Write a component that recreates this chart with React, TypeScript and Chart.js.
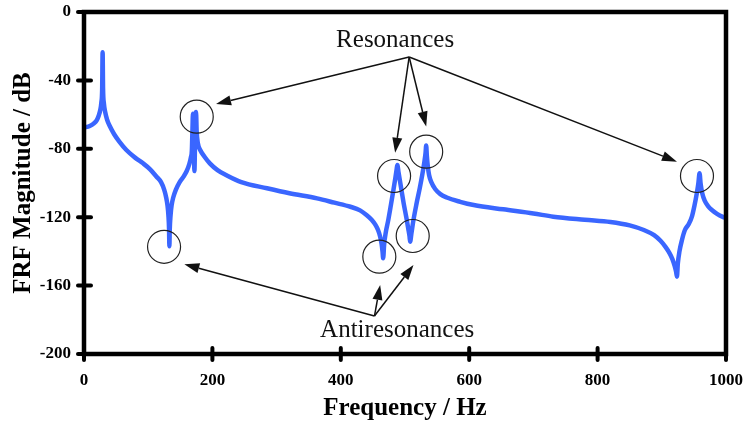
import React, { useEffect, useRef } from "react";
import { Chart, registerables } from "chart.js";

Chart.register(...registerables);

// Frequency response (Hz, dB)
const freqHz = [
  0, 9, 15, 20, 23, 25.5, 27, 28.3, 29, 29.7, 31, 33, 36, 40.5, 47, 55, 66, 80, 92, 103, 113, 120, 125, 128, 130,
  131.5, 132.5, 133, 133.6, 134.8, 136.5, 139, 143, 149, 155, 160, 164, 166.5, 168, 169, 169.7, 170.8, 172, 173.3,
  174.5, 175.5, 177.5, 181, 188, 196, 208, 222, 245, 285, 320, 363, 390, 415, 430, 440, 448, 454, 458, 461, 463.5,
  465, 466, 467.5, 470, 474, 478, 482, 485, 487, 488, 490, 494, 498, 502, 505, 507, 508, 510, 513, 518, 523, 527,
  530, 532, 533, 534, 535.5, 537.5, 541, 547, 555, 565, 586, 607, 653, 700, 731, 780, 820, 850, 872, 888, 898, 906,
  912, 916.5, 920, 922.3, 923.6, 925, 927.5, 931.4, 936, 942, 947, 951, 954.5, 957, 958.8, 960.5, 963, 967, 972,
  978, 986, 995, 1000,
];
const magDb = [
  -67.6, -66.7, -65.3, -63.2, -60.5, -57, -53, -45, -23.5, -45, -53.4, -58.5, -63, -67, -71.5, -75.8, -80.7, -85.3,
  -88.5, -92, -96.3, -99.5, -104, -108.5, -113, -119, -127, -137, -127, -119, -113, -108.5, -104, -99.5, -96.3, -93,
  -89, -85, -81, -68, -59.5, -66, -93, -68, -58.5, -70, -77, -80.7, -84.8, -88.5, -92.5, -95.5, -99.5, -103.1, -106,
  -109, -111.5, -113.9, -116, -118.7, -121.5, -124.5, -127.5, -131, -135.5, -140, -144, -136, -129, -121.6, -113,
  -104, -97, -92, -89.5, -94, -103, -112, -120, -126.5, -131, -134.3, -129.5, -122, -112, -103, -95, -88, -82.5,
  -78, -84, -90, -95.3, -99.5, -103.5, -106.5, -108.5, -111, -112.9, -115.4, -117.8, -119.7, -121.5, -122.8,
  -124.8, -127.5, -130.5, -133.8, -137.5, -141, -144.5, -148.5, -152, -154.8, -147, -140, -133.3, -127.5, -124,
  -119.5, -113, -106, -100, -94.3, -100.5, -106, -110.5, -113.5, -115.8, -118, -119.8, -120.5,
];

const yTicks = [0, -40, -80, -120, -160, -200];
const xTicks = [0, 200, 400, 600, 800, 1000];

// Annotation circles (Hz, dB)
const circleHz = [175.6, 124.7, 483, 533, 512, 460, 954.8];
const circleDb = [-61.2, -137.3, -95.9, -81.7, -131, -143.1, -95.9];

// Resonances label / arrows
const resLabel = "Resonances";
const resLabelPos = [484.6, -16.4];
const resOrigin = [506.5, -26.3];
const resTipHz = [205.7, 484.6, 533, 923.6];
const resTipDb = [-53.8, -82.3, -67, -87.5];

// Antiresonances label / arrows
const antiLabel = "Antiresonances";
const antiLabelPos = [487.8, -186.5];
const antiOrigin = [452.4, -177.8];
const antiTipHz = [156.3, 461.3, 513.2];
const antiTipDb = [-147.5, -159.6, -148];

const SERIF = "'Liberation Serif', 'Times New Roman', serif";

function arrow(ctx: CanvasRenderingContext2D, x0: number, y0: number, x1: number, y1: number) {
  const ang = Math.atan2(y1 - y0, x1 - x0);
  const len = 15;
  const half = 5;
  const bx = x1 - len * Math.cos(ang);
  const by = y1 - len * Math.sin(ang);
  ctx.beginPath();
  ctx.moveTo(x0, y0);
  ctx.lineTo(bx, by);
  ctx.stroke();
  ctx.beginPath();
  ctx.moveTo(x1, y1);
  ctx.lineTo(bx + half * Math.sin(ang), by - half * Math.cos(ang));
  ctx.lineTo(bx - half * Math.sin(ang), by + half * Math.cos(ang));
  ctx.closePath();
  ctx.fill();
}

const framePlugin = {
  id: "frameAndNotes",
  afterDatasetsDraw(chart: any) {
    const { ctx, chartArea, scales } = chart;
    const xs = scales.x;
    const ys = scales.y;
    ctx.save();
    // frame
    ctx.strokeStyle = "#000";
    ctx.lineWidth = 4.5;
    ctx.strokeRect(chartArea.left, chartArea.top, chartArea.right - chartArea.left, chartArea.bottom - chartArea.top);
    // ticks crossing the axes
    ctx.lineWidth = 4;
    ctx.lineCap = "round";
    yTicks.forEach((v) => {
      const py = ys.getPixelForValue(v);
      ctx.beginPath();
      ctx.moveTo(chartArea.left - 6, py);
      ctx.lineTo(chartArea.left + 7, py);
      ctx.stroke();
    });
    xTicks.forEach((v) => {
      const px = xs.getPixelForValue(v);
      ctx.beginPath();
      ctx.moveTo(px, chartArea.bottom - 6);
      ctx.lineTo(px, chartArea.bottom + 6);
      ctx.stroke();
    });
    // circles
    ctx.lineCap = "butt";
    ctx.strokeStyle = "#222";
    ctx.lineWidth = 1.2;
    circleHz.forEach((h, i) => {
      ctx.beginPath();
      ctx.arc(xs.getPixelForValue(h), ys.getPixelForValue(circleDb[i]), 16.5, 0, Math.PI * 2);
      ctx.stroke();
    });
    // arrows
    ctx.strokeStyle = "#111";
    ctx.fillStyle = "#111";
    ctx.lineWidth = 1.5;
    const rox = xs.getPixelForValue(resOrigin[0]);
    const roy = ys.getPixelForValue(resOrigin[1]);
    resTipHz.forEach((h, i) => arrow(ctx, rox, roy, xs.getPixelForValue(h), ys.getPixelForValue(resTipDb[i])));
    const aox = xs.getPixelForValue(antiOrigin[0]);
    const aoy = ys.getPixelForValue(antiOrigin[1]);
    antiTipHz.forEach((h, i) => arrow(ctx, aox, aoy, xs.getPixelForValue(h), ys.getPixelForValue(antiTipDb[i])));
    // labels
    ctx.font = `25px ${SERIF}`;
    ctx.textAlign = "center";
    ctx.textBaseline = "middle";
    ctx.fillText(resLabel, xs.getPixelForValue(resLabelPos[0]), ys.getPixelForValue(resLabelPos[1]));
    ctx.fillText(antiLabel, xs.getPixelForValue(antiLabelPos[0]), ys.getPixelForValue(antiLabelPos[1]));
    ctx.restore();
  },
};

const noPad = (s: any) => {
  s.paddingLeft = 0;
  s.paddingRight = 0;
  s.paddingTop = 0;
  s.paddingBottom = 0;
};

export default function App() {
  const ref = useRef<HTMLCanvasElement | null>(null);
  useEffect(() => {
    if (!ref.current) return;
    const chart = new Chart(ref.current, {
      type: "line",
      data: {
        datasets: [
          {
            data: freqHz.map((f, i) => ({ x: f, y: magDb[i] })),
            borderColor: "#3a66ff",
            borderWidth: 4.5,
            pointRadius: 0,
            tension: 0,
            cubicInterpolationMode: "monotone",
            borderJoinStyle: "round",
            borderCapStyle: "round",
            fill: false,
          },
        ],
      },
      options: {
        animation: false,
        responsive: true,
        maintainAspectRatio: false,
        layout: { padding: { left: 0, top: 12, right: 18, bottom: 0 } },
        plugins: { legend: { display: false }, tooltip: { enabled: false }, title: { display: false } },
        scales: {
          x: {
            type: "linear",
            min: 0,
            max: 1000,
            afterBuildTicks: (s: any) => {
              s.ticks = xTicks.map((v) => ({ value: v }));
            },
            afterFit: (s: any) => {
              s.height = 70;
              noPad(s);
            },
            grid: { display: false, drawTicks: false },
            border: { display: false },
            ticks: {
              padding: 16,
              color: "#000",
              font: { family: SERIF, size: 17, weight: "bold" },
              maxRotation: 0,
              callback: (v: any) => String(v),
            },
            title: {
              display: true,
              text: "Frequency / Hz",
              color: "#000",
              font: { family: SERIF, size: 25, weight: "bold" },
              padding: { top: 6, bottom: 0 },
            },
          },
          y: {
            type: "linear",
            min: -200,
            max: 0,
            afterBuildTicks: (s: any) => {
              s.ticks = yTicks.map((v) => ({ value: v }));
            },
            afterFit: (s: any) => {
              s.width = 84;
              noPad(s);
            },
            grid: { display: false, drawTicks: false },
            border: { display: false },
            ticks: {
              padding: 13,
              color: "#000",
              font: { family: SERIF, size: 17, weight: "bold" },
              callback: (v: any) => String(v),
            },
            title: {
              display: true,
              text: "FRF Magnitude / dB",
              color: "#000",
              font: { family: SERIF, size: 25, weight: "bold" },
              padding: { top: 9, bottom: 0 },
            },
          },
        },
      },
      plugins: [framePlugin],
    });
    return () => chart.destroy();
  }, []);
  return (
    <div style={{ position: "fixed", left: 0, top: 0, width: 744, height: 424, background: "#fff" }}>
      <canvas ref={ref} />
    </div>
  );
}
